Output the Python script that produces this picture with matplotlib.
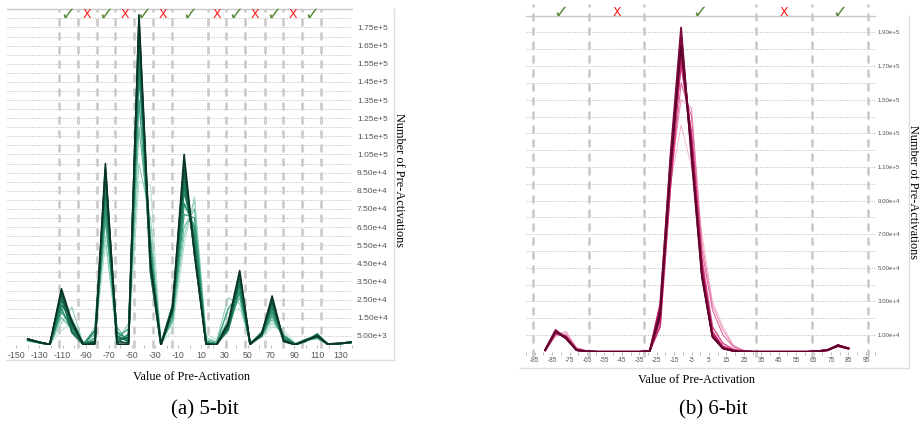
import numpy as np
import matplotlib.pyplot as plt
from matplotlib.lines import Line2D
from matplotlib.ticker import FixedLocator, FuncFormatter

plt.rcParams['font.family'] = ['Liberation Sans', 'DejaVu Sans']
plt.rcParams['axes.unicode_minus'] = False


# ==========================================================
# Data (counts in thousands)
# ==========================================================

# (a) 5-bit
x_5bit = [-140, -130, -121, -111, -102, -92, -82, -73, -63, -53,
          -44, -34, -25, -15, -5, 4, 14, 23, 33, 43,
          52, 62, 71, 81, 91, 100, 110, 119, 129, 139]

counts_5bit = [
    [2.0, 1.0, 0.5, 8, 12, 0.5, 3, 55, 8, 2, 90, 88, 1, 8, 55, 82, 6, 3, 18, 20, 2, 4, 10, 8, 1, 3, 3, 0.5, 0.5, 1.2],
    [2.2, 1.1, 0.4, 12, 21, 0.3, 10, 60, 2, 12, 100, 70, 2, 12, 60, 80, 4, 2, 26, 23, 1.5, 5, 12, 6, 0.8, 2.5, 4, 0.6, 0.6, 1.2],
    [2.4, 1.2, 0.3, 15, 9, 0.5, 6, 68, 10, 1, 120, 60, 0.5, 16, 65, 75, 3, 1.5, 14, 26, 1, 6, 14, 5, 0.5, 3, 5, 0.4, 0.7, 1.3],
    [2.5, 1.2, 0.3, 18, 11, 0.2, 4, 72, 4, 9, 135, 50, 1, 14, 72, 70, 2, 1, 20, 28, 1, 5, 16, 4, 0.4, 2, 6, 0.5, 0.6, 1.3],
    [2.8, 1.3, 0.2, 20, 8, 1.5, 2, 78, 7, 3, 150, 55, 0.3, 18, 78, 65, 1.5, 0.5, 8, 30, 0.8, 6, 18, 3, 0.3, 2.5, 4, 0.4, 0.7, 1.4],
    [2.9, 1.3, 0.2, 22, 14, 0.3, 8, 85, 1, 6, 160, 48, 0.5, 22, 85, 60, 1, 0.5, 12, 33, 0.5, 7, 20, 5, 0.3, 3, 5, 0.5, 0.8, 1.4],
    [3.0, 1.4, 0.2, 25, 10, 0.2, 1, 90, 5, 2, 168, 42, 0.2, 18, 90, 55, 0.8, 0.3, 10, 35, 0.5, 5, 22, 2, 0.2, 2, 6, 0.4, 0.7, 1.5],
    [3.1, 1.4, 0.2, 28, 7, 0.2, 2, 95, 3, 4, 175, 40, 0.3, 20, 95, 52, 0.6, 0.2, 9, 38, 0.4, 6, 24, 3, 0.2, 2.5, 5, 0.5, 0.8, 1.5],
    [3.2, 1.5, 0.3, 29, 12, 0.1, 1.5, 97, 2, 1, 178, 44, 0.2, 21, 100, 50, 0.5, 0.1, 11, 39, 0.4, 6, 25, 2.5, 0.2, 2.5, 5, 0.5, 0.8, 1.5],
    [3.3, 1.5, 0.3, 31, 13, 0.1, 0.5, 100, 0.5, 0.3, 182, 45, 0.2, 20, 105, 50, 0.5, 0.1, 12, 41, 0.5, 6, 27, 2, 0.2, 2.5, 5, 0.5, 0.8, 1.5],
]

bounds_5bit = [-113.5, -97, -80.5, -64.5, -48, -31.5, -15.5,
               15.5, 31.5, 48, 64.5, 80.5, 97, 113.5]
mark_x_5bit = [-105, -89, -72.5, -56, -40, -23.5, 0,
               23.5, 40, 56, 72.5, 89, 105]
marks_5bit = ['✓', 'X', '✓', 'X', '✓', 'X', '✓', 'X', '✓', 'X', '✓', 'X', '✓']

# (b) 6-bit
x_6bit = [-89, -83, -77, -71, -65, -59, -53, -47, -41, -35,
          -29, -23, -17, -11, -5, 1, 7, 13, 19, 25,
          31, 37, 43, 49, 55, 61, 67, 73, 79, 85]

counts_6bit = [
    [0.5, 9, 11, 2, 0.5, 0, 0, 0, 0, 0.2, 1, 30, 100, 135, 110, 70, 30, 15, 4, 1, 0.2, 0, 0, 0, 0, 0, 0.5, 1.5, 3, 1.5],
    [0.6, 10, 12, 2.5, 0.6, 0, 0, 0, 0, 0.1, 0.8, 26, 105, 150, 145, 65, 28, 13, 3.5, 0.8, 0.1, 0, 0, 0, 0, 0, 0.4, 1.2, 3, 1.5],
    [0.7, 10, 10, 2, 0.4, 0, 0, 0, 0, 0.1, 0.6, 18, 98, 160, 140, 60, 25, 10, 3, 0.5, 0.1, 0, 0, 0, 0, 0, 0.3, 1, 3.5, 1.8],
    [0.8, 11, 9, 1.5, 0.3, 0, 0, 0, 0, 0, 0.5, 24, 108, 170, 130, 55, 15, 5, 1.5, 0.3, 0, 0, 0, 0, 0, 0, 0.3, 1, 4, 2],
    [0.8, 11, 9, 1.5, 0.3, 0, 0, 0, 0, 0, 0.5, 15, 100, 175, 128, 50, 12, 3, 1, 0.2, 0, 0, 0, 0, 0, 0, 0.3, 1, 3.5, 2],
    [0.9, 12, 8, 1.2, 0.2, 0, 0, 0, 0, 0, 0.4, 28, 115, 180, 125, 50, 10, 3, 0.8, 0.2, 0, 0, 0, 0, 0, 0, 0.2, 0.8, 4, 2],
    [1, 13, 8, 1, 0.2, 0, 0, 0, 0, 0, 0.3, 20, 112, 185, 122, 48, 10, 2.5, 0.6, 0.1, 0, 0, 0, 0, 0, 0, 0.3, 1, 3.8, 2],
    [1, 12, 9, 1, 0.2, 0, 0, 0, 0, 0, 0.3, 22, 110, 188, 118, 46, 9, 2, 0.5, 0.1, 0, 0, 0, 0, 0, 0, 0.3, 1, 3.5, 2],
    [1, 12, 8, 1, 0.2, 0, 0, 0, 0, 0, 0.3, 25, 118, 193, 115, 44, 9, 2, 0.5, 0.1, 0, 0, 0, 0, 0, 0, 0.3, 1, 4, 2],
    [1, 12, 8, 1, 0.2, 0, 0, 0, 0, 0, 0.3, 22, 110, 182, 120, 45, 9, 2, 0.5, 0.1, 0, 0, 0, 0, 0, 0, 0.3, 1, 3.5, 2],
]

bounds_6bit = [-96, -64, -32, 32, 64, 96]
mark_x_6bit = [-80, -48, 0, 48, 80]
marks_6bit = ['✓', 'X', '✓', 'X', '✓']

greens = ['#a6dcc8', '#86ccb2', '#62b89c', '#44a487', '#2f9476',
          '#248667', '#1d7a5d', '#176a51', '#10503d', '#0a3328']
pinks = ['#f4aecb', '#eb8cb4', '#e0689d', '#d44886', '#c92d72',
         '#bc1d63', '#ad1457', '#98104c', '#7c0a3d', '#5a0429']
widths = [0.6, 0.7, 0.8, 1.0, 1.2, 1.3, 1.4, 1.4, 1.3, 1.2]


def sci_label(v, pos=None):
    m, e = f"{v:.2e}".split("e")
    return f"{m}e+{int(e)}"


def style_panel(ax, xlim, ymax, ymajor, yminor, xmajor, xminor, fs, ypad):
    ax.set_xlim(*xlim)
    ax.set_ylim(0, ymax)
    for s in ["left", "right", "bottom"]:
        ax.spines[s].set_visible(False)
    ax.spines["top"].set_color("#c8c8c8")
    ax.spines["top"].set_linewidth(1.0)

    ax.yaxis.set_major_locator(FixedLocator(ymajor))
    ax.yaxis.set_minor_locator(FixedLocator(yminor))
    ax.yaxis.set_major_formatter(FuncFormatter(sci_label))
    ax.yaxis.tick_right()
    ax.tick_params(axis="y", which="both", length=0, pad=ypad,
                   labelsize=fs, labelcolor="#555555")
    ax.grid(axis="y", which="both", linestyle=(0, (1, 1.5)),
            color="#b8b8b8", linewidth=0.7)

    ax.xaxis.set_major_locator(FixedLocator(xmajor))
    ax.xaxis.set_minor_locator(FixedLocator(xminor))
    ax.tick_params(axis="x", which="both", direction="out", length=2.5,
                   width=0.7, color="#bbbbbb", pad=1.5,
                   labelsize=fs + 0.3, labelcolor="#555555")
    ax.set_axisbelow(True)


def draw_marks(ax, xs, marks, y):
    for x, m in zip(xs, marks):
        if m == "✓":
            ax.text(x, y, m, color="#5b8c3a", fontsize=13, ha="center",
                    va="center", family="DejaVu Sans",
                    transform=ax.get_xaxis_transform(), clip_on=False)
        else:
            ax.text(x, y, m, color="#ff1a1a", fontsize=9, ha="center",
                    va="center", family="DejaVu Sans",
                    transform=ax.get_xaxis_transform(), clip_on=False)


fig = plt.figure(figsize=(9.2, 4.3), dpi=100)
ax1 = fig.add_axes([0.0076, 0.1977, 0.375, 0.7807])
ax2 = fig.add_axes([0.5717, 0.1819, 0.3789, 0.7816])


# ==========================================================
# (a) 5-bit
# ==========================================================

style_panel(
    ax1, (-158, 140), 185000,
    np.arange(5000, 180000, 10000), np.arange(0, 185001, 10000),
    np.arange(-150, 140, 20), np.arange(-140, 141, 20),
    6, 3.5,
)

for b in bounds_5bit:
    ax1.axvline(b, ymin=-0.008, ymax=1.0, color="#c8c8c8", lw=1.8,
                dashes=(3.2, 2.4), clip_on=False, zorder=1)

for vals, c, w in zip(counts_5bit, greens, widths):
    ax1.plot(x_5bit, np.array(vals) * 1000, color=c, lw=w, zorder=3)

draw_marks(ax1, mark_x_5bit, marks_5bit, 0.985)


# ==========================================================
# (b) 6-bit
# ==========================================================

style_panel(
    ax2, (-100, 100), 200000,
    np.arange(10000, 200000, 20000), np.arange(0, 200001, 20000),
    np.arange(-95, 96, 10), np.arange(-100, 101, 10),
    4.4, 2.2,
)

for b in bounds_6bit:
    ax2.axvline(b, ymin=-0.016, ymax=1.035, color="#c8c8c8", lw=1.8,
                dashes=(3.2, 2.4), clip_on=False, zorder=1)

for vals, c, w in zip(counts_6bit, pinks, widths):
    ax2.plot(x_6bit, np.array(vals) * 1000, color=c, lw=w, zorder=3)

draw_marks(ax2, mark_x_6bit, marks_6bit, 1.01)


# ==========================================================
# Labels, frames, captions
# ==========================================================

serif = ["Liberation Serif", "DejaVu Serif"]

fig.text(192 / 920, 1 - 377 / 430, "Value of Pre-Activation", family=serif,
         fontsize=8.8, ha="center", va="center")
fig.text(697 / 920, 1 - 380 / 430, "Value of Pre-Activation", family=serif,
         fontsize=8.8, ha="center", va="center")
fig.text(399 / 920, 1 - 180 / 430, "Number of Pre-Activations", family=serif,
         fontsize=8.8, ha="center", va="center", rotation=-90)
fig.text(913 / 920, 1 - 192 / 430, "Number of Pre-Activations", family=serif,
         fontsize=8.8, ha="center", va="center", rotation=-90)

fig.text(205 / 920, 1 - 410 / 430, "(a) 5-bit", family=serif,
         fontsize=15, ha="center", va="center")
fig.text(713 / 920, 1 - 410 / 430, "(b) 6-bit", family=serif,
         fontsize=15, ha="center", va="center")

frame_kw = dict(color="#dddddd", lw=1.0, transform=fig.transFigure)
fig.add_artist(Line2D([6 / 920, 394 / 920], [1 - 360 / 430] * 2, **frame_kw))
fig.add_artist(Line2D([394 / 920] * 2, [1 - 9 / 430, 1 - 360 / 430], **frame_kw))
fig.add_artist(Line2D([520 / 920, 909 / 920], [1 - 368 / 430] * 2, **frame_kw))
fig.add_artist(Line2D([909 / 920] * 2, [1 - 16 / 430, 1 - 368 / 430], **frame_kw))

fig.savefig("out.png", dpi=100)
